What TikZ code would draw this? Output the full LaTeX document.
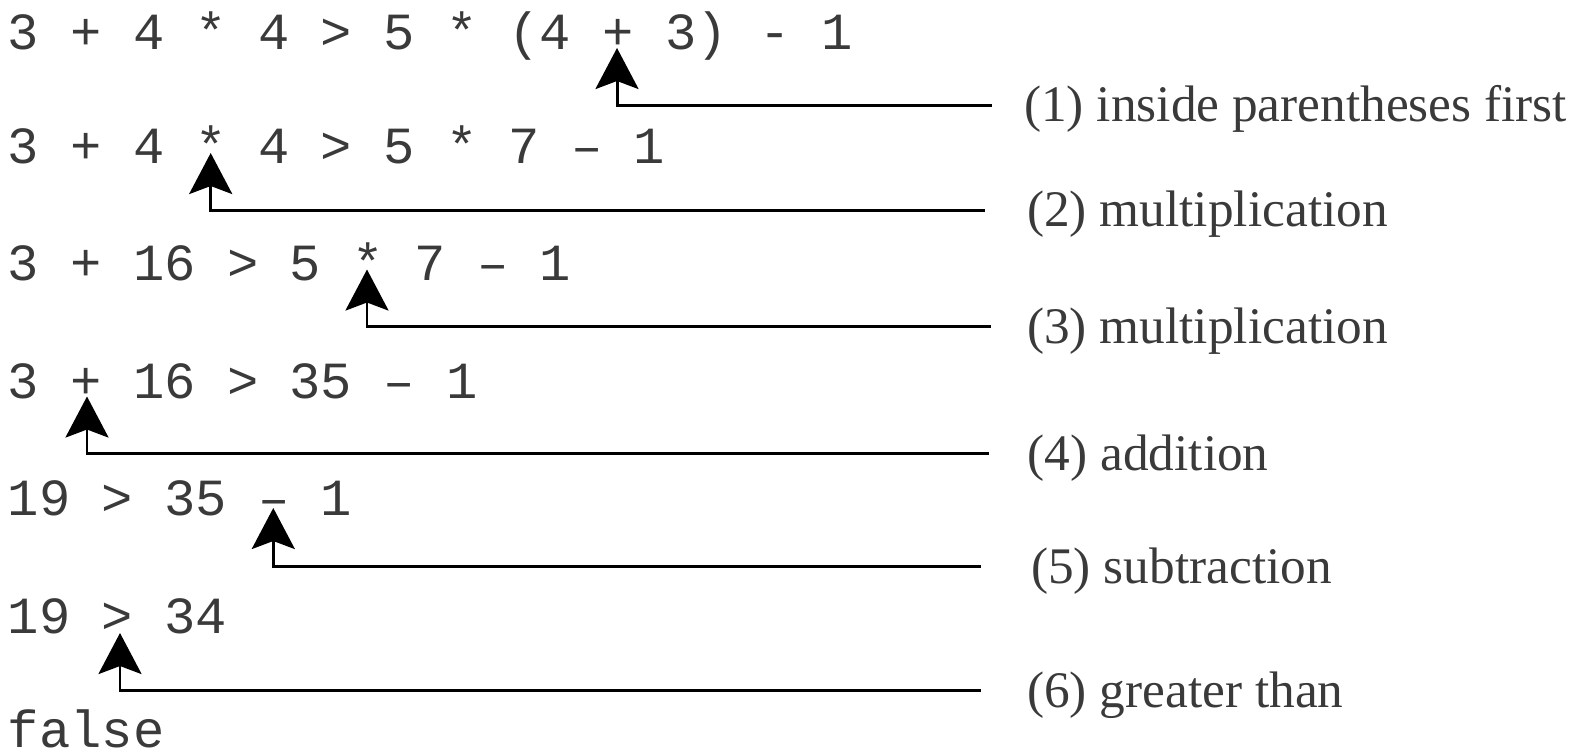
\documentclass[tikz,border=0pt]{standalone}
\usepackage{fontspec}
\setmainfont{Liberation Serif}
\setmonofont{Liberation Mono}
\usetikzlibrary{arrows.meta}
\definecolor{inkgray}{HTML}{3A3A3A}
\tikzset{
  expr/.style={anchor=base west,inner sep=0pt,text=inkgray,
    font=\ttfamily\fontsize{14.84pt}{17pt}\selectfont},
  rulelabel/.style={anchor=west,inner sep=0pt,text=inkgray,
    text height=12.6pt,text depth=3.2pt,
    font=\fontsize{14.6pt}{17pt}\selectfont},
  callout/.style={{Stealth[length=4.1mm,width=4.3mm,inset=0.8mm]}-,
    line width=0.85pt,shorten >=#1},
  callout/.default={4mm},
}
\begin{document}
\begin{tikzpicture}
  \useasboundingbox (0,0) rectangle (15.85,7.52);
  % evaluation steps
  \node[expr] (e1) at (0.0725,7.03) {3 + 4 * 4 > 5 * (4 + 3) - 1};
  \node[expr] (e2) at (0.0725,5.885) {3 + 4 * 4 > 5 * 7 – 1};
  \node[expr] (e3) at (0.0725,4.72) {3 + 16 > 5 * 7 – 1};
  \node[expr] (e4) at (0.0725,3.54) {3 + 16 > 35 – 1};
  \node[expr] (e5) at (0.0725,2.365) {19 > 35 – 1};
  \node[expr] (e6) at (0.0725,1.19) {19 > 34};
  \node[expr] (e7) at (0.0725,0.05) {false};
  % operator evaluated at each step
  \coordinate (t1) at (6.17,7.04);
  \coordinate (t2) at (2.107,5.99);
  \coordinate (t3) at (3.67,4.825);
  \coordinate (t4) at (0.87,3.555);
  \coordinate (t5) at (2.733,2.44);
  \coordinate (t6) at (1.20,1.19);
  % rule labels
  \node[rulelabel] (l1) at (10.235,6.47) {(1) inside parentheses first};
  \node[rulelabel] (l2) at (10.265,5.42) {(2) multiplication};
  \node[rulelabel] (l3) at (10.265,4.255) {(3) multiplication};
  \node[rulelabel] (l4) at (10.27,2.985) {(4) addition};
  \node[rulelabel] (l5) at (10.305,1.853) {(5) subtraction};
  \node[rulelabel] (l6) at (10.265,0.613) {(6) greater than};
  \draw[callout=3.2mm] (t1) |- (l1.west);
  \draw[callout=4.2mm] (t2) |- (l2.west);
  \draw[callout=3.6mm] (t3) |- (l3.west);
  \draw[callout=3.85mm] (t4) |- (l4.west);
  \draw[callout=5mm] (t5) |- (l5.west);
  \draw[callout=4.55mm] (t6) |- (l6.west);
\end{tikzpicture}
\end{document}
